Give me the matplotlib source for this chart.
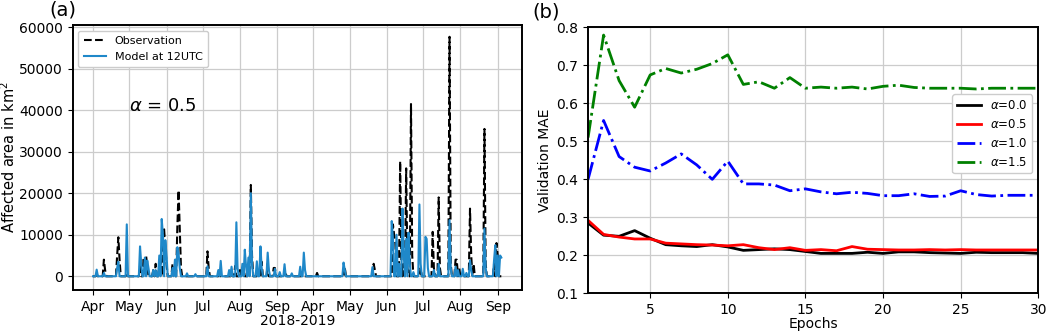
"""Two panels: affected-area time series (a) and validation MAE vs epochs (b)."""
import matplotlib
matplotlib.use('Agg')
import matplotlib.pyplot as plt
import numpy as np

plt.rcParams.update({
    'font.family': 'DejaVu Sans',
    'font.size': 10,
    'axes.linewidth': 1.4,
})

# ---- panel (a) data: day index (Apr 1 2018 = 0, 2019 season starts at 183) ----
month_ticks = [0, 30, 61, 91, 122, 153, 183, 213, 244, 274, 305, 336]
month_labels = ['Apr', 'May', 'Jun', 'Jul', 'Aug', 'Sep',
                'Apr', 'May', 'Jun', 'Jul', 'Aug', 'Sep']
n_days = 340

obs_days = [3, 9, 10, 20, 21, 22, 28, 39, 42, 43, 44, 45, 50, 52, 56, 58, 59, 60, 61,
            66, 70, 71, 72, 73, 95, 96, 105, 115, 118, 122, 125, 129, 131, 132, 140,
            145, 150, 151, 160, 186, 209, 233, 234, 249, 250, 251, 255, 256, 258, 260,
            261, 264, 265, 272, 282, 283, 287, 288, 296, 297, 301, 302, 304, 313, 314,
            316, 325, 326, 333, 335, 336]
obs_vals = [500, 4000, 1500, 5000, 9400, 4000, 800, 2500, 4500, 2000, 5000, 2500, 1500,
            3000, 4000, 9000, 11300, 7000, 3000, 3000, 12000, 20700, 11000, 2000, 6000,
            2000, 2000, 1000, 2500, 1500, 2000, 3000, 22000, 5000, 3500, 3000, 2000,
            2000, 500, 800, 2200, 3000, 1500, 12500, 10000, 8000, 27700, 4000, 3000,
            26000, 2000, 41500, 5000, 2000, 10700, 2000, 19000, 2000, 57700, 3000, 4000,
            4000, 2000, 16300, 5000, 3000, 35500, 3000, 3000, 8000, 5000]

mod_days = [3, 9, 20, 21, 28, 39, 40, 43, 45, 46, 50, 52, 55, 57, 58, 60, 61, 66, 68,
            70, 71, 72, 78, 85, 95, 104, 106, 113, 115, 119, 120, 124, 126, 127, 129,
            131, 132, 136, 139, 140, 145, 146, 151, 155, 159, 165, 172, 175, 176, 208,
            209, 232, 248, 249, 252, 254, 257, 258, 260, 262, 263, 266, 271, 272, 276,
            277, 278, 283, 287, 296, 297, 301, 303, 307, 310, 313, 314, 325, 326, 333,
            334, 336, 338, 339]
mod_vals = [1600, 800, 2000, 3500, 12500, 7200, 3000, 4500, 3800, 2000, 1500, 1500,
            5000, 13800, 10000, 8700, 5000, 2000, 4000, 7000, 5500, 2000, 700, 500,
            2400, 1500, 3700, 1500, 2300, 13000, 2000, 3000, 6400, 2500, 4500, 20000,
            3000, 3600, 7200, 2000, 5700, 1500, 1800, 1000, 2900, 700, 2300, 5700, 1500,
            3300, 1500, 2200, 13300, 9000, 10000, 3000, 16300, 5000, 9000, 10500, 3000,
            1000, 17300, 3000, 9500, 9000, 2000, 1500, 3000, 13500, 2000, 2300, 1500,
            1800, 800, 3800, 1500, 11500, 2000, 4000, 7500, 5000, 5000, 4500]

obs = np.zeros(n_days)
obs[obs_days] = obs_vals
model = np.zeros(n_days)
model[mod_days] = mod_vals
days = np.arange(n_days)

# ---- panel (b) data ----
epochs = np.arange(1, 31)
mae_00 = [0.285, 0.253, 0.250, 0.265, 0.245, 0.228, 0.225, 0.223, 0.228, 0.222,
          0.213, 0.215, 0.217, 0.215, 0.210, 0.205, 0.205, 0.205, 0.208, 0.205,
          0.209, 0.209, 0.207, 0.206, 0.205, 0.208, 0.207, 0.207, 0.207, 0.205]
mae_05 = [0.292, 0.255, 0.248, 0.243, 0.243, 0.232, 0.230, 0.228, 0.227, 0.225,
          0.228, 0.220, 0.215, 0.220, 0.213, 0.215, 0.212, 0.223, 0.216, 0.215,
          0.214, 0.214, 0.215, 0.214, 0.215, 0.214, 0.214, 0.214, 0.214, 0.214]
mae_10 = [0.400, 0.555, 0.460, 0.432, 0.422, 0.443, 0.467, 0.438, 0.400, 0.448,
          0.388, 0.388, 0.385, 0.370, 0.375, 0.367, 0.362, 0.366, 0.363, 0.357,
          0.357, 0.362, 0.355, 0.356, 0.370, 0.360, 0.356, 0.358, 0.358, 0.358]
mae_15 = [0.510, 0.780, 0.660, 0.590, 0.675, 0.692, 0.680, 0.690, 0.705, 0.728,
          0.650, 0.657, 0.640, 0.668, 0.640, 0.643, 0.640, 0.643, 0.638, 0.645,
          0.648, 0.642, 0.640, 0.640, 0.640, 0.638, 0.640, 0.640, 0.640, 0.640]

fig = plt.figure(figsize=(10.52, 3.31), dpi=100)
ax1 = fig.add_axes([0.069, 0.124, 0.427, 0.800])
ax2 = fig.add_axes([0.559, 0.114, 0.428, 0.803])

# ---- (a) ----
ax1.plot(days, obs, color='black', linestyle='--', linewidth=1.5, label='Observation')
ax1.plot(days, model, color='#1f88c9', linewidth=1.5, label='Model at 12UTC')
ax1.set_xticks(month_ticks)
ax1.set_xticklabels(month_labels)
ax1.set_xlim(-17, 356)
ax1.set_ylim(-3300, 60500)
ax1.set_yticks(np.arange(0, 60001, 10000))
ax1.grid(True, color='#cccccc', linewidth=0.9)
ax1.set_axisbelow(True)
ax1.set_xlabel('2018-2019', fontsize=10, labelpad=0)
ax1.set_ylabel('Affected area in km$^2$', fontsize=10.5, labelpad=1)
ax1.legend(loc='upper left', fontsize=8, framealpha=1, borderpad=0.5)
ax1.text(30, 41000, r'$\alpha$ = 0.5', fontsize=13, va='center')
fig.text(0.047, 0.998, '(a)', fontsize=14, va='top')

# ---- (b) ----
ax2.plot(epochs, mae_00, color='black', linewidth=2, label=r'$\alpha$=0.0')
ax2.plot(epochs, mae_05, color='red', linewidth=2, label=r'$\alpha$=0.5')
ax2.plot(epochs, mae_10, color='blue', linestyle='-.', linewidth=2, label=r'$\alpha$=1.0')
ax2.plot(epochs, mae_15, color='green', linestyle='-.', linewidth=2, label=r'$\alpha$=1.5')
ax2.set_xlim(1, 30)
ax2.set_ylim(0.1, 0.8)
ax2.set_xticks([5, 10, 15, 20, 25, 30])
ax2.grid(True, color='#cccccc', linewidth=0.9)
ax2.set_axisbelow(True)
ax2.set_xlabel('Epochs', fontsize=10, labelpad=0)
ax2.set_ylabel('Validation MAE', fontsize=10, labelpad=3)
ax2.legend(loc='center right', bbox_to_anchor=(1.0, 0.6), fontsize=8.5, framealpha=1)
fig.text(0.506, 0.993, '(b)', fontsize=14, va='top')

plt.savefig('out.png', dpi=100)
